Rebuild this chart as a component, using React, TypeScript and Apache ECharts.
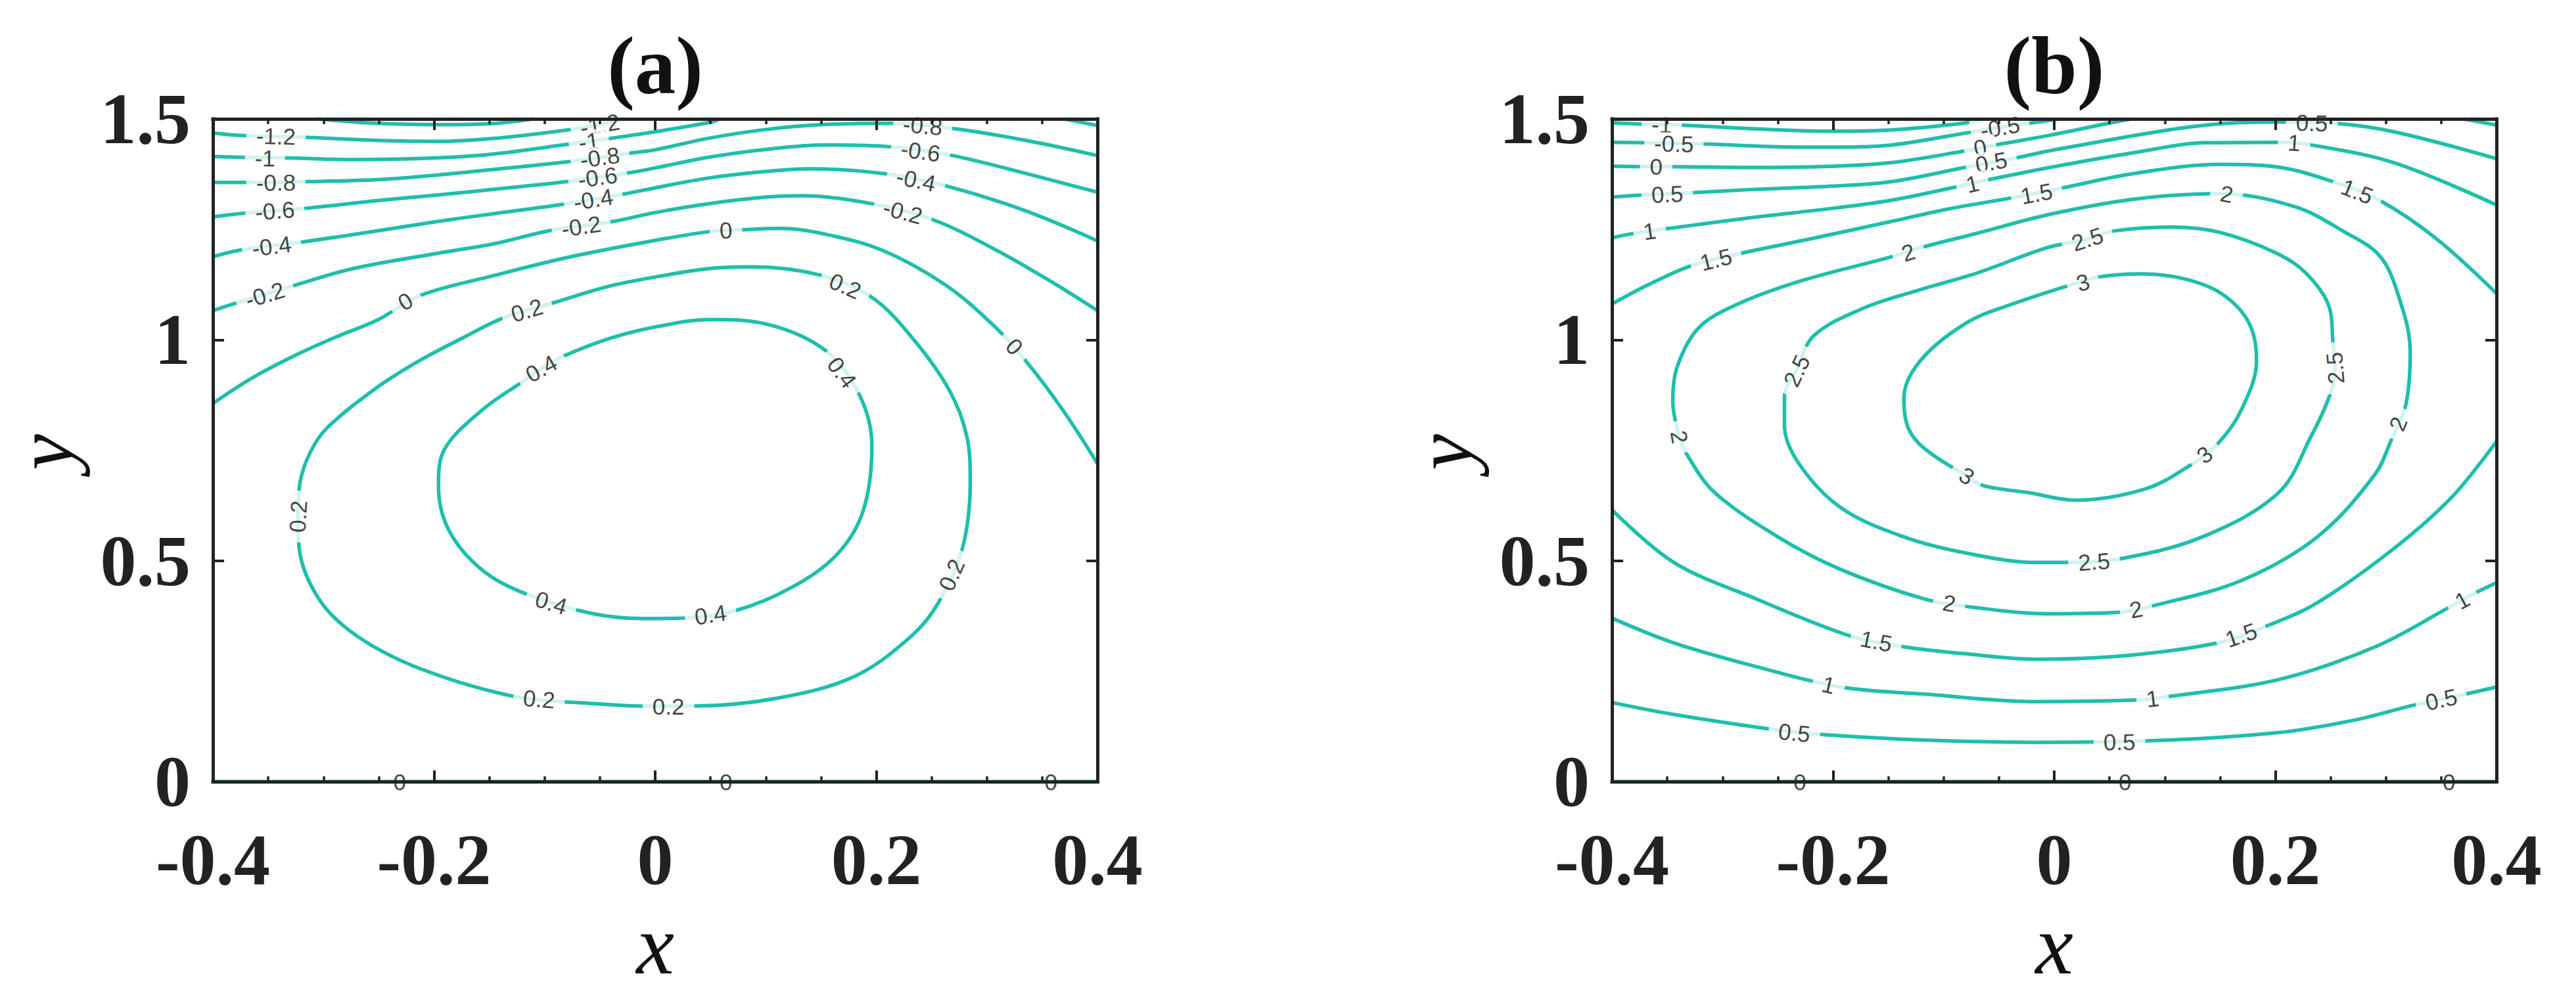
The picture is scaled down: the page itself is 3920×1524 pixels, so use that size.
import React, { useEffect, useRef } from "react";
import * as echarts from "echarts";

type Pt = [number, number];

// ---------- axes ----------
const X_MIN = -0.4;
const X_MAX = 0.4;
const X_STEP = 0.2;
const Y_MIN = 0;
const Y_MAX = 1.5;
const Y_STEP = 0.5;
const PANEL_TITLES = ["(a)", "(b)"];

// ---------- panel (a) contour lines, [x, y] ----------
const A_M14: Pt[] = [[-0.305, 1.5], [-0.26, 1.491], [-0.2, 1.487], [-0.15, 1.489], [-0.11, 1.5]];
const A_M12: Pt[] = [[-0.4, 1.468], [-0.3715, 1.462], [-0.3135, 1.458], [-0.2477, 1.451], [-0.1962, 1.449], [-0.1446, 1.456], [-0.0789, 1.475], [-0.049, 1.488], [-0.031, 1.5]];
const A_M10: Pt[] = [[-0.4, 1.415], [-0.3715, 1.413], [-0.3354, 1.412], [-0.2735, 1.408], [-0.1962, 1.412], [-0.1446, 1.421], [-0.0776, 1.443], [-0.0428, 1.455], [0.0, 1.471], [0.051, 1.493], [0.058, 1.5]];
const A_M10R: Pt[] = [[0.37, 1.5], [0.4, 1.485]];
const A_M08: Pt[] = [[-0.4, 1.356], [-0.3715, 1.356], [-0.3135, 1.358], [-0.2477, 1.363], [-0.1962, 1.373], [-0.1446, 1.386], [-0.0789, 1.403], [-0.0208, 1.423], [0.0, 1.43], [0.048, 1.456], [0.1, 1.476], [0.15, 1.487], [0.213, 1.49], [0.27, 1.478], [0.336, 1.451], [0.4, 1.417]];
const A_M06: Pt[] = [[-0.4, 1.278], [-0.374, 1.286], [-0.3148, 1.298], [-0.2477, 1.316], [-0.1962, 1.328], [-0.1446, 1.341], [-0.0802, 1.358], [-0.0234, 1.378], [0.0, 1.389], [0.048, 1.413], [0.1, 1.431], [0.153, 1.441], [0.212, 1.437], [0.269, 1.417], [0.336, 1.376], [0.4, 1.334]];
const A_M04: Pt[] = [[-0.4, 1.188], [-0.3753, 1.203], [-0.3173, 1.222], [-0.2477, 1.248], [-0.1962, 1.268], [-0.1446, 1.286], [-0.0853, 1.306], [-0.026, 1.331], [0.0, 1.344], [0.048, 1.366], [0.1, 1.381], [0.14, 1.387], [0.208, 1.376], [0.265, 1.347], [0.336, 1.291], [0.4, 1.224]];
const A_M02: Pt[] = [[-0.4, 1.066], [-0.3818, 1.081], [-0.3263, 1.123], [-0.2735, 1.161], [-0.1962, 1.196], [-0.1446, 1.218], [-0.0956, 1.247], [-0.0376, 1.268], [0.0, 1.288], [0.048, 1.308], [0.1, 1.323], [0.132, 1.326], [0.196, 1.308], [0.252, 1.271], [0.31, 1.201], [0.362, 1.126], [0.4, 1.066]];
const A_P00: Pt[] = [[-0.4, 0.856], [-0.365, 0.913], [-0.327, 0.963], [-0.289, 1.006], [-0.251, 1.045], [-0.213, 1.1], [-0.145, 1.146], [-0.08, 1.186], [0.0, 1.225], [0.052, 1.246], [0.076, 1.249], [0.114, 1.252], [0.15, 1.241], [0.205, 1.203], [0.262, 1.125], [0.305, 1.035], [0.335, 0.953], [0.369, 0.84], [0.4, 0.72]];
const A_P00B: Pt[] = [[-0.4, 0], [0.4, 0]];
const A_P02: Pt[] = [[-0.323, 0.6], [-0.321, 0.68], [-0.312, 0.745], [-0.297, 0.8], [-0.251, 0.893], [-0.213, 0.953], [-0.175, 1.003], [-0.137, 1.05], [-0.093, 1.083], [-0.042, 1.121], [0.002, 1.143], [0.048, 1.161], [0.087, 1.165], [0.15, 1.146], [0.196, 1.096], [0.232, 1.006], [0.266, 0.886], [0.282, 0.78], [0.285, 0.679], [0.278, 0.529], [0.256, 0.404], [0.232, 0.33], [0.181, 0.239], [0.113, 0.19], [0.034, 0.171], [-0.01, 0.171], [-0.058, 0.177], [-0.128, 0.193], [-0.213, 0.256], [-0.27, 0.33], [-0.304, 0.413], [-0.322, 0.529], [-0.323, 0.6]];
const A_P04: Pt[] = [[-0.103, 0.935], [-0.083, 0.963], [-0.04, 1.004], [0.002, 1.03], [0.05, 1.046], [0.1, 1.036], [0.154, 0.976], [0.185, 0.874], [0.196, 0.76], [0.188, 0.612], [0.164, 0.513], [0.123, 0.439], [0.074, 0.388], [0.026, 0.37], [-0.01, 0.369], [-0.058, 0.381], [-0.117, 0.425], [-0.157, 0.48], [-0.187, 0.571], [-0.196, 0.67], [-0.191, 0.75], [-0.157, 0.84], [-0.119, 0.907], [-0.103, 0.935]];

const CONTOURS_A: [number, Pt[]][] = [
  [-1.4, A_M14], [-1.2, A_M12], [-1, A_M10], [-1, A_M10R], [-0.8, A_M08], [-0.6, A_M06],
  [-0.4, A_M04], [-0.2, A_M02], [0, A_P00], [0, A_P00B], [0.2, A_P02], [0.4, A_P04],
];

// contour labels of (a): [level, x, y]
const LABELS_A: [number, number, number][] = [
  [-1.2, -0.343, 1.461], [-1.2, -0.05, 1.487],
  [-1, -0.353, 1.411], [-1, -0.06, 1.449],
  [-0.8, -0.343, 1.356], [-0.8, -0.05, 1.413], [-0.8, 0.242, 1.485],
  [-0.6, -0.344, 1.292], [-0.6, -0.052, 1.368], [-0.6, 0.24, 1.427],
  [-0.4, -0.347, 1.212], [-0.4, -0.056, 1.318], [-0.4, 0.236, 1.362],
  [-0.2, -0.353, 1.102], [-0.2, -0.067, 1.257], [-0.2, 0.224, 1.29],
  [0, -0.226, 1.087], [0, 0.064, 1.248], [0, 0.325, 0.985],
  [0, -0.231, 0], [0, 0.064, 0], [0, 0.358, 0],
  [0.2, -0.116, 1.067], [0.2, 0.172, 1.122], [0.2, 0.268, 0.468], [0.2, 0.012, 0.17], [0.2, -0.105, 0.187], [0.2, -0.323, 0.6],
  [0.4, -0.103, 0.935], [0.4, 0.169, 0.926], [0.4, 0.05, 0.378], [0.4, -0.094, 0.405],
];

// ---------- panel (b) contour lines ----------
const B_M10: Pt[] = [[-0.4, 1.491], [-0.371, 1.488], [-0.337, 1.486], [-0.276, 1.478], [-0.199, 1.472], [-0.147, 1.475], [-0.083, 1.49], [-0.062, 1.5]];
const B_M05: Pt[] = [[-0.4, 1.447], [-0.371, 1.446], [-0.315, 1.443], [-0.25, 1.437], [-0.199, 1.436], [-0.147, 1.441], [-0.08, 1.468], [-0.049, 1.481], [-0.02, 1.491], [0.005, 1.5]];
const B_P00: Pt[] = [[-0.4, 1.393], [-0.371, 1.392], [-0.347, 1.392], [-0.276, 1.39], [-0.199, 1.393], [-0.147, 1.401], [-0.08, 1.428], [-0.053, 1.441], [-0.004, 1.463], [0.051, 1.491], [0.07, 1.5]];
const B_P00R: Pt[] = [[0.37, 1.5], [0.4, 1.486]];
const B_P00B: Pt[] = [[-0.4, 0], [0.4, 0]];
const B_P05: Pt[] = [[-0.4, 1.323], [-0.371, 1.328], [-0.326, 1.333], [-0.276, 1.34], [-0.199, 1.348], [-0.147, 1.358], [-0.079, 1.391], [-0.034, 1.412], [-0.004, 1.428], [0.098, 1.473], [0.15, 1.489], [0.202, 1.493], [0.254, 1.49], [0.307, 1.471], [0.4, 1.41]];
const B_P05L: Pt[] = [[-0.4, 0.179], [-0.344, 0.152], [-0.257, 0.119], [-0.212, 0.107], [-0.117, 0.094], [-0.016, 0.089], [0.083, 0.092], [0.203, 0.111], [0.273, 0.14], [0.325, 0.173], [0.372, 0.198], [0.4, 0.214]];
const B_P10: Pt[] = [[-0.4, 1.231], [-0.376, 1.243], [-0.352, 1.251], [-0.276, 1.276], [-0.199, 1.298], [-0.147, 1.316], [-0.085, 1.348], [-0.062, 1.361], [-0.004, 1.39], [0.071, 1.423], [0.137, 1.446], [0.205, 1.447], [0.228, 1.443], [0.307, 1.401], [0.4, 1.305]];
const B_P10L: Pt[] = [[-0.4, 0.37], [-0.344, 0.314], [-0.269, 0.26], [-0.193, 0.214], [-0.117, 0.198], [-0.016, 0.181], [0.078, 0.185], [0.099, 0.191], [0.203, 0.231], [0.291, 0.306], [0.359, 0.397], [0.38, 0.426], [0.4, 0.45]];
const B_P15: Pt[] = [[-0.4, 1.081], [-0.366, 1.126], [-0.328, 1.168], [-0.283, 1.196], [-0.225, 1.226], [-0.147, 1.268], [-0.096, 1.296], [-0.039, 1.321], [0.006, 1.343], [0.071, 1.376], [0.15, 1.397], [0.202, 1.391], [0.252, 1.358], [0.294, 1.316], [0.345, 1.23], [0.4, 1.105]];
const B_P15L: Pt[] = [[-0.4, 0.615], [-0.344, 0.496], [-0.269, 0.413], [-0.185, 0.33], [-0.138, 0.306], [-0.079, 0.289], [-0.016, 0.277], [0.064, 0.285], [0.148, 0.314], [0.191, 0.351], [0.238, 0.405], [0.308, 0.529], [0.36, 0.645], [0.4, 0.77]];
const B_P20: Pt[] = [[-0.339, 0.78], [-0.345, 0.86], [-0.341, 0.939], [-0.322, 1.026], [-0.288, 1.079], [-0.231, 1.132], [-0.147, 1.188], [-0.12, 1.209], [-0.07, 1.241], [-0.004, 1.284], [0.071, 1.318], [0.15, 1.331], [0.218, 1.301], [0.262, 1.245], [0.294, 1.191], [0.31, 1.11], [0.322, 0.973], [0.318, 0.853], [0.305, 0.774], [0.29, 0.695], [0.238, 0.554], [0.169, 0.455], [0.088, 0.397], [0.061, 0.384], [-0.006, 0.38], [-0.075, 0.395], [-0.117, 0.413], [-0.193, 0.48], [-0.25, 0.554], [-0.307, 0.654], [-0.331, 0.735], [-0.339, 0.78]];
const B_P25: Pt[] = [[-0.233, 0.93], [-0.218, 1.008], [-0.173, 1.071], [-0.122, 1.113], [-0.07, 1.151], [-0.007, 1.208], [0.03, 1.228], [0.053, 1.246], [0.105, 1.255], [0.15, 1.243], [0.202, 1.195], [0.228, 1.15], [0.249, 1.072], [0.252, 0.996], [0.254, 0.936], [0.249, 0.873], [0.232, 0.78], [0.203, 0.654], [0.134, 0.554], [0.059, 0.504], [0.012, 0.496], [-0.016, 0.496], [-0.079, 0.517], [-0.136, 0.554], [-0.193, 0.62], [-0.231, 0.72], [-0.244, 0.807], [-0.244, 0.873], [-0.233, 0.93]];
const B_P30: Pt[] = [[-0.079, 0.692], [-0.117, 0.753], [-0.132, 0.8], [-0.136, 0.867], [-0.121, 0.953], [-0.079, 1.039], [-0.04, 1.079], [0.012, 1.122], [0.04, 1.142], [0.077, 1.149], [0.116, 1.139], [0.151, 1.105], [0.176, 1.039], [0.183, 0.953], [0.169, 0.84], [0.148, 0.765], [0.123, 0.716], [0.082, 0.662], [0.019, 0.637], [-0.023, 0.654], [-0.064, 0.67], [-0.079, 0.692]];

const CONTOURS_B: [number, Pt[]][] = [
  [-1, B_M10], [-0.5, B_M05], [0, B_P00], [0, B_P00R], [0, B_P00B], [0.5, B_P05], [0.5, B_P05L],
  [1, B_P10], [1, B_P10L], [1.5, B_P15], [1.5, B_P15L], [2, B_P20], [2.5, B_P25], [3, B_P30],
];

const LABELS_B: [number, number, number][] = [
  [-1, -0.355, 1.487],
  [-0.5, -0.344, 1.444], [-0.5, -0.049, 1.481],
  [0, -0.36, 1.392], [0, -0.067, 1.435], [0, -0.23, 0], [0, 0.064, 0], [0, 0.357, 0],
  [0.5, -0.35, 1.33], [0.5, -0.057, 1.402], [0.5, 0.233, 1.491], [0.5, -0.235, 0.111], [0.5, 0.059, 0.09], [0.5, 0.35, 0.186],
  [1, -0.366, 1.246], [1, -0.074, 1.353], [1, 0.217, 1.446], [1, -0.204, 0.219], [1, 0.089, 0.188], [1, 0.369, 0.411],
  [1.5, -0.306, 1.182], [1.5, -0.016, 1.331], [1.5, 0.274, 1.336], [1.5, -0.161, 0.318], [1.5, 0.169, 0.332],
  [2, -0.132, 1.198], [2, 0.156, 1.33], [2, -0.339, 0.78], [2, -0.095, 0.404], [2, 0.074, 0.39], [2, 0.311, 0.81],
  [2.5, -0.233, 0.93], [2.5, 0.03, 1.228], [2.5, 0.036, 0.498], [2.5, 0.254, 0.936],
  [3, 0.026, 1.13], [3, -0.079, 0.692], [3, 0.136, 0.74],
];

const PANELS = [
  { contours: CONTOURS_A, labels: LABELS_A },
  { contours: CONTOURS_B, labels: LABELS_B },
];

// ---------- layout & style ----------
const W = 3920;
const H = 1524;
const GRID_LEFT = [324, 2453];
const GRID_TOP = 181;
const GRID_W = 1346;
const GRID_H = 1009;
const TEAL = "#1fbfaa";
const INK = "#222222";
const SERIF = '"Liberation Serif", "Times New Roman", serif';
const SANS = '"Liberation Sans", Arial, Helvetica, sans-serif';

function labelAngle(lx: number, ly: number, curves: Pt[][]): number {
  const kx = GRID_W / (X_MAX - X_MIN);
  const ky = GRID_H / (Y_MAX - Y_MIN);
  let best = Infinity;
  let ang = 0;
  const px = lx * kx;
  const py = ly * ky;
  for (const c of curves) {
    for (let i = 0; i < c.length - 1; i++) {
      const ax = c[i][0] * kx, ay = c[i][1] * ky;
      const bx = c[i + 1][0] * kx, by = c[i + 1][1] * ky;
      const dx = bx - ax, dy = by - ay;
      const L2 = dx * dx + dy * dy || 1;
      let t = ((px - ax) * dx + (py - ay) * dy) / L2;
      t = Math.max(0, Math.min(1, t));
      const qx = ax + t * dx, qy = ay + t * dy;
      const d = (px - qx) * (px - qx) + (py - qy) * (py - qy);
      if (d < best) {
        best = d;
        ang = (Math.atan2(dy, dx) * 180) / Math.PI;
      }
    }
  }
  if (ang > 95) ang -= 180;
  if (ang <= -85) ang += 180;
  return ang;
}

function buildOption() {
  const grid: any[] = [];
  const xAxis: any[] = [];
  const yAxis: any[] = [];
  const series: any[] = [];
  const graphic: any[] = [];

  PANELS.forEach((panel, i) => {
    grid.push({
      left: GRID_LEFT[i], top: GRID_TOP, width: GRID_W, height: GRID_H,
      containLabel: false, outerBoundsMode: "none", show: false,
    });
    const axisLine = { show: true, onZero: false, lineStyle: { color: INK, width: 5, cap: "square" } };
    const axisTick = { show: true, inside: true, length: 17, lineStyle: { color: INK, width: 4 } };
    const minorTick = { show: true, splitNumber: 4, length: 8, lineStyle: { color: INK, width: 3.5 } };
    const tickFont = { fontFamily: SERIF, fontWeight: "bold", fontSize: 110, color: INK };
    const common = { gridIndex: i, type: "value", splitLine: { show: false }, minorSplitLine: { show: false }, z: 20, silent: true };
    xAxis.push({
      ...common, position: "bottom", min: X_MIN, max: X_MAX, interval: X_STEP,
      axisLine, axisTick, minorTick,
      axisLabel: { ...tickFont, margin: 64, lineHeight: 110, showMinLabel: true, showMaxLabel: true },
    });
    xAxis.push({
      ...common, position: "top", min: X_MIN, max: X_MAX, interval: X_STEP,
      axisLine, axisTick, minorTick, axisLabel: { show: false },
    });
    yAxis.push({
      ...common, position: "left", min: Y_MIN, max: Y_MAX, interval: Y_STEP,
      axisLine, axisTick, minorTick: { show: false },
      axisLabel: { ...tickFont, margin: 34, lineHeight: 100, showMinLabel: true, showMaxLabel: true },
    });
    yAxis.push({
      ...common, position: "right", min: Y_MIN, max: Y_MAX, interval: Y_STEP,
      axisLine, axisTick, minorTick: { show: false }, axisLabel: { show: false },
    });

    panel.contours.forEach(([level, pts], k) => {
      series.push({
        type: "line", name: `c${i}_${k}_${level}`,
        xAxisIndex: 2 * i, yAxisIndex: 2 * i,
        data: pts, symbol: "none", showSymbol: false, smooth: 0.35,
        lineStyle: { color: TEAL, width: 5.5 }, z: 2, silent: true, clip: true,
      });
    });

    const data = panel.labels.map(([lv, x, y]) => {
      const curves = panel.contours.filter(([l]) => l === lv).map(([, p]) => p);
      const onEdge = y === Y_MIN;
      return {
        value: [x, y],
        label: {
          formatter: String(lv),
          rotate: labelAngle(x, y, curves),
          backgroundColor: onEdge ? "transparent" : "#ffffff",
          padding: onEdge ? 0 : [1, 15],
        },
      };
    });
    series.push({
      type: "scatter", name: `labels${i}`,
      xAxisIndex: 2 * i, yAxisIndex: 2 * i,
      symbol: "circle", symbolSize: 1, itemStyle: { color: "rgba(0,0,0,0)" },
      silent: true, z: 10, clip: false,
      label: {
        show: true, position: "inside", align: "center", verticalAlign: "middle",
        fontFamily: SANS, fontSize: 35, lineHeight: 32, color: "#111111",
      },
      data,
    });

    const cx = GRID_LEFT[i] + (GRID_W * (0 - X_MIN)) / (X_MAX - X_MIN);
    graphic.push({
      type: "text", x: cx, y: 100, z: 30,
      style: { text: PANEL_TITLES[i], font: `bold 125px ${SERIF}`, fill: "#111", align: "center", verticalAlign: "middle" },
    });
    graphic.push({
      type: "text", x: cx, y: 1438, z: 30,
      style: { text: "x", font: `italic 130px ${SERIF}`, fill: "#111", align: "center", verticalAlign: "middle" },
    });
    graphic.push({
      type: "text", x: GRID_LEFT[i] - 256, y: GRID_TOP + GRID_H / 2 + 3, rotation: Math.PI / 2, z: 30,
      style: { text: "y", font: `italic 124px ${SERIF}`, fill: "#111", align: "center", verticalAlign: "middle" },
    });
  });

  return {
    animation: false,
    backgroundColor: "#ffffff",
    grid, xAxis, yAxis, series, graphic,
    tooltip: { show: false },
  };
}

export default function App() {
  const ref = useRef<HTMLDivElement>(null);
  useEffect(() => {
    document.body.style.margin = "0";
    const chart = echarts.init(ref.current as HTMLDivElement, null, { renderer: "svg", width: W, height: H });
    chart.setOption(buildOption() as any);
    return () => chart.dispose();
  }, []);
  return <div ref={ref} style={{ width: W, height: H, background: "#fff" }} />;
}
